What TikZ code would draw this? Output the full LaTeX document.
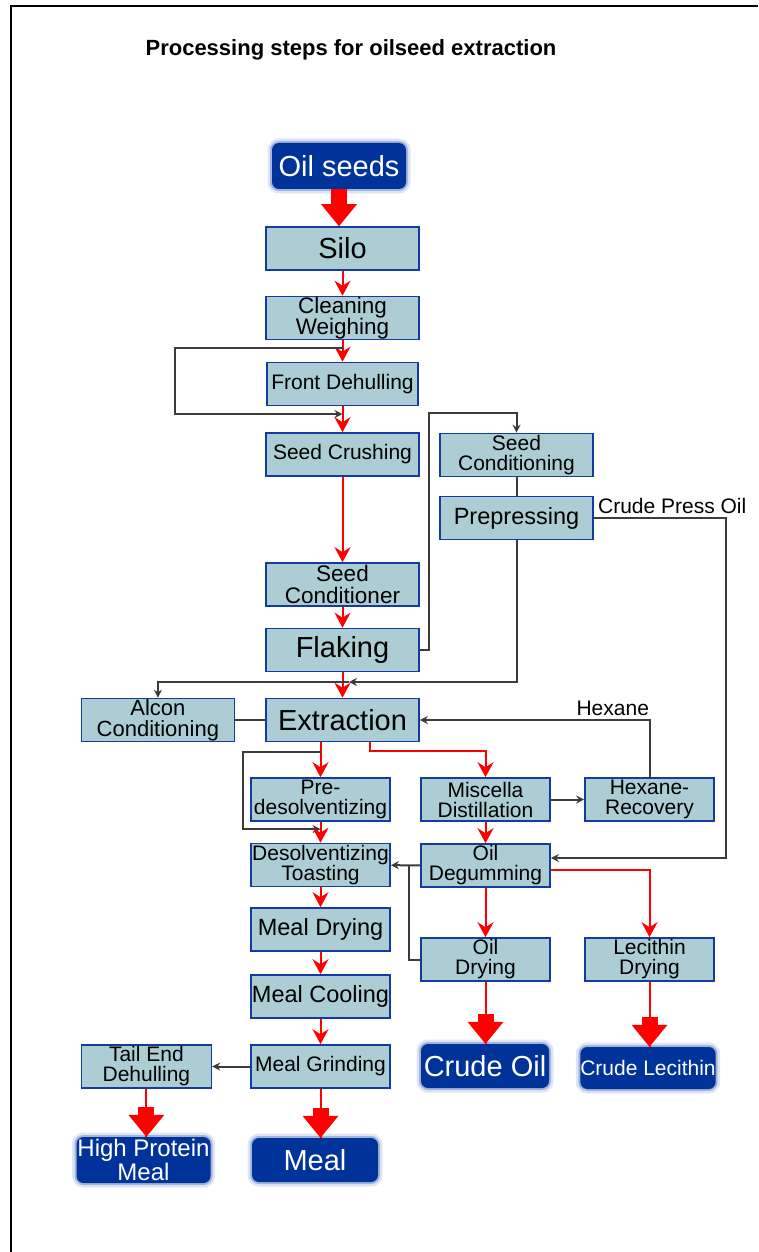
\documentclass[tikz,border=0pt]{standalone}
\usepackage{fontspec}
\setmainfont{Liberation Sans}
\usepackage{tikz}
\usetikzlibrary{arrows.meta, positioning, calc}
\definecolor{boxfill}{RGB}{172,205,211}
\definecolor{boxline}{RGB}{20,60,160}
\definecolor{outblue}{RGB}{0,51,153}
\definecolor{linkgray}{RGB}{60,60,60}
\tikzstyle{proc} = [rectangle, draw=boxline, line width=1.6pt, fill=boxfill, minimum width=153pt, minimum height=43pt, inner sep=0pt, align=center, font=\fontsize{21}{20}\selectfont]
\tikzstyle{outbox} = [rectangle, rounded corners=7pt, fill=outblue, text=white, inner sep=0pt, align=center, font=\fontsize{29}{30}\selectfont, preaction={draw=outblue!50, line width=9pt, opacity=0.25}, preaction={draw=outblue!60, line width=4pt, opacity=0.5}]
\tikzstyle{flow} = [red, line width=2pt, -{Stealth[length=15pt, width=16pt, inset=5pt]}]
\tikzstyle{bigflow} = [red, line width=16pt, -{Triangle[length=22pt, width=36pt, line width=0pt]}]
\tikzstyle{link} = [linkgray, line width=2pt, -{Stealth[length=8pt, width=8pt]}]
\tikzstyle{lbl} = [text=black, font=\fontsize{21}{22}\selectfont]

\begin{document}
\begin{tikzpicture}[x=1pt, y=-1pt]
  \useasboundingbox (0,0) rectangle (758,1252);
  \draw[line width=2pt] (11,1252) -- (11,6) -- (758,6);

  % Title
  \node[font=\bfseries\fontsize{22}{24}\selectfont, anchor=base] (title) at (351,56) {Processing steps for oilseed extraction};

  % Seed preparation
  \node[outbox, minimum width=134pt, minimum height=46pt] (seeds) at (339,166) {Oil seeds};
  \node[proc, font=\fontsize{29}{30}\selectfont] (silo) at (342.5,248.5) {Silo};
  \node[proc, font=\fontsize{22.5}{21.5}\selectfont] (clean) at (342.5,318) {Cleaning\\Weighing};
  \node[proc, minimum width=151pt] (front) at (342.5,384) {Front Dehulling};
  \node[proc] (crush) at (342.5,454.5) {Seed Crushing};
  \node[proc, font=\fontsize{22.5}{21.5}\selectfont] (condr) at (342.5,584.5) {Seed\\Conditioner};
  \node[proc, font=\fontsize{29}{30}\selectfont] (flak) at (342.5,650) {Flaking};
  \node[proc, font=\fontsize{29}{30}\selectfont] (extr) at (342.5,720) {Extraction};
  \node[proc, left=30pt of extr, font=\fontsize{22}{21}\selectfont] (alcon) {Alcon\\Conditioning};

  % Prepress branch
  \node[proc] (scond) at (516.5,455) {Seed\\Conditioning};
  \node[proc, font=\fontsize{23.5}{24}\selectfont] (prep) at (516.5,518) {Prepressing};

  % Meal line
  \node[proc, minimum width=139pt] (pre) at (320.5,799.5) {Pre-\\desolventizing};
  \node[proc, minimum width=139pt] (des) at (320.5,865) {Desolventizing\\Toasting};
  \node[proc, minimum width=139pt, font=\fontsize{23.5}{24}\selectfont] (mdry) at (320.5,929.5) {Meal Drying};
  \node[proc, minimum width=139pt, font=\fontsize{23.5}{24}\selectfont] (mcool) at (320.5,996.5) {Meal Cooling};
  \node[proc, minimum width=139pt] (mgrind) at (320.5,1066.5) {Meal Grinding};
  \node[proc, minimum width=130pt, left=38pt of mgrind] (tail) {Tail End\\Dehulling};

  % Oil line
  \node[proc, minimum width=129pt] (misc) at (485.5,799.5) {Miscella\\Distillation};
  \node[proc, minimum width=129pt] (degum) at (485.5,865.5) {Oil\\Degumming};
  \node[proc, minimum width=129pt] (odry) at (485.5,959.5) {Oil\\Drying};
  \node[proc, minimum width=129pt] (hex) at (649.5,799.5) {Hexane-\\Recovery};
  \node[proc, minimum width=129pt] (lec) at (649.5,959.5) {Lecithin\\Drying};

  % Products
  \node[outbox, minimum width=128pt, minimum height=44pt] (crude) at (485,1066) {Crude Oil};
  \node[outbox, minimum width=134pt, minimum height=42pt, font=\fontsize{21}{22}\selectfont] (clec) at (648,1068) {Crude Lecithin};
  \node[outbox, minimum width=134pt, minimum height=46pt, font=\fontsize{24}{22}\selectfont] (hpm) at (143.5,1160) {High Protein\\Meal};
  \node[outbox, minimum width=126pt, minimum height=44pt] (meal) at (315,1160) {Meal};

  % Main flow
  \draw[bigflow] (seeds.south) -- (seeds.south |- silo.north);
  \draw[flow] (silo) -- (clean);
  \draw[flow] (clean) -- (front);
  \draw[flow] (front) -- (crush);
  \draw[flow] (crush) -- (condr);
  \draw[flow] (condr) -- (flak);
  \draw[flow] (flak) -- (extr);

  % Dehulling bypass
  \coordinate (byin) at ($(clean.south)!0.35!(front.north)$);
  \coordinate (byout) at ($(front.south)!0.3!(crush.north)$);
  \draw[link] (byin) -- ++(-168,0) |- (byout);

  % Prepressing
  \draw[link] (flak.east) -| (429,413) -| (scond.north);
  \draw[link, -] (scond) -- (prep);
  \coordinate (exin) at (349,682);
  \draw[link] (prep.south) |- (exin);
  \draw[link] (exin) -| (alcon.north);
  \draw[link, -] (alcon) -- (extr);
  \coordinate (cpo) at (726,858);
  \draw[link] (prep.east) node[lbl, anchor=south west] {Crude Press Oil} -| (cpo) -- (cpo -| degum.east);

  % Solvent loop
  \draw[link] (hex.north) |- (extr.east) node[lbl, pos=0.58, above] {Hexane};
  \draw[link] (misc) -- (hex);

  % Meal side
  \draw[flow] (pre.north |- extr.south) -- (pre);
  \coordinate (recin) at (320.5,752);
  \coordinate (recout) at ($(pre.south)!0.35!(des.north)$);
  \draw[link] (recin) -- ++(-78,0) |- (recout);
  \draw[flow] (pre) -- (des);
  \draw[flow] (des) -- (mdry);
  \draw[flow] (mdry) -- (mcool);
  \draw[flow] (mcool) -- (mgrind);
  \draw[link] (mgrind) -- (tail);

  % Oil side
  \coordinate (mbend) at (485.5,751);
  \draw[flow] ([xshift=27.5pt]extr.south) |- (mbend) -- (misc);
  \draw[flow] (misc) -- (degum);
  \draw[flow] (degum) -- (odry);
  \draw[flow] ([yshift=-4.5pt]degum.east) -| (lec);
  \draw[link] (degum) -- (des);
  \draw[link, -] (odry.west) -| (409,865);

  % Products
  \draw[flow, -] (tail.south) -- (tail.south |- hpm.north);
  \draw[bigflow] ($(tail.south |- hpm.north)+(0,-30)$) -- (tail.south |- hpm.north);
  \draw[flow, -] (mgrind.south) -- (mgrind.south |- meal.north);
  \draw[bigflow] ($(mgrind.south |- meal.north)+(0,-30)$) -- (mgrind.south |- meal.north);
  \draw[flow, -] (odry.south) -- (odry.south |- crude.north);
  \draw[bigflow] ($(odry.south |- crude.north)+(0,-30)$) -- (odry.south |- crude.north);
  \draw[flow, -] (lec.south) -- (lec.south |- clec.north);
  \draw[bigflow] ($(lec.south |- clec.north)+(0,-30)$) -- (lec.south |- clec.north);
\end{tikzpicture}
\end{document}
